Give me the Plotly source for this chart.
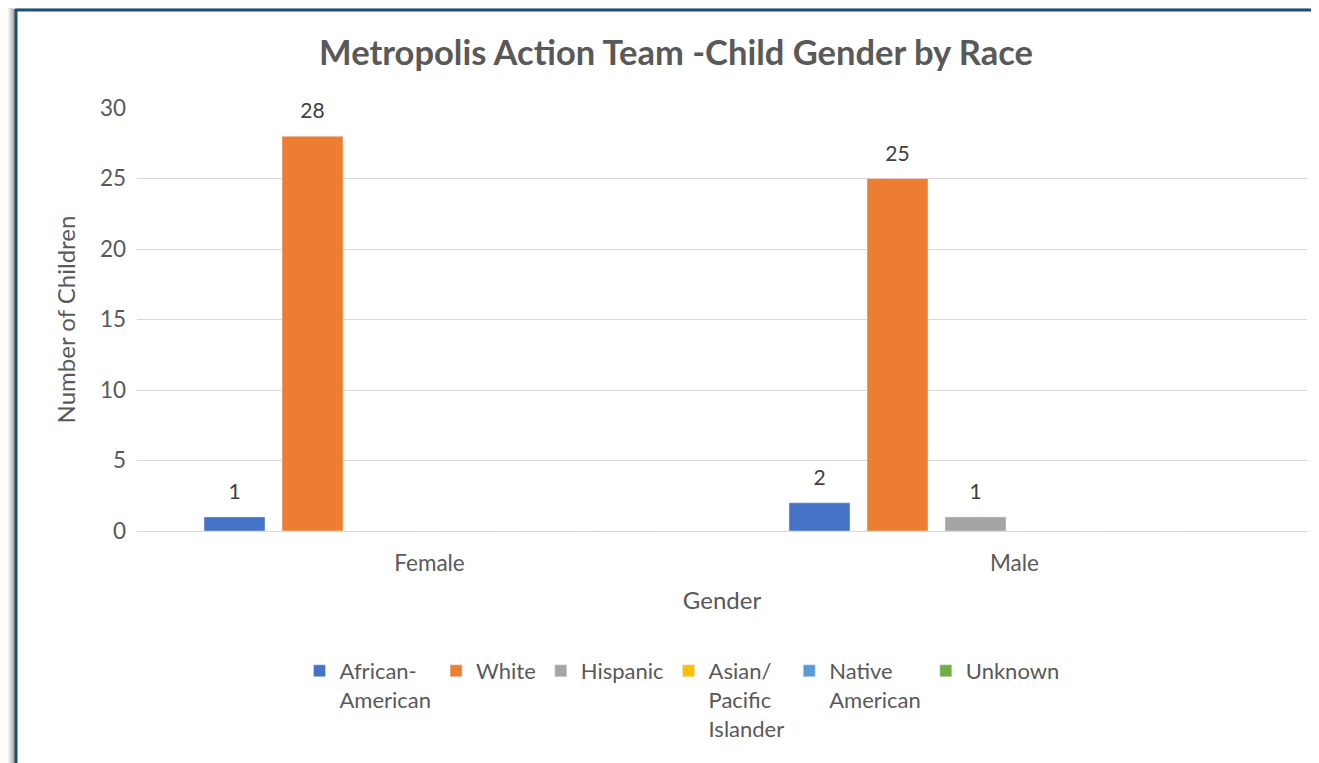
import plotly.graph_objects as go

categories = ["Female", "Male"]
series_names = ["African-<br>American", "White", "Hispanic", "Asian/<br>Pacific<br>Islander", "Native<br>American", "Unknown"]
african_american = [1, 2]
white = [28, 25]
hispanic = [0, 1]
asian_pacific = [0, 0]
native_american = [0, 0]
unknown = [0, 0]
colors = ["#4472C4", "#ED7D31", "#A5A5A5", "#FFC000", "#5B9BD5", "#70AD47"]

values = [african_american, white, hispanic, asian_pacific, native_american, unknown]

W, H = 1319, 763
OFF = 8  # page body margin offset
# plot area in page pixel coordinates
PL, PR, PT, PB = 137, 1307, 108, 531
L, R, T, B = PL - OFF, PR - OFF, PT - OFF, PB - OFF
FONT = "Lato, Calibri, 'Open Sans', sans-serif"

def px_x(p):  # page px -> paper
    return (p - OFF - L) / (R - L)

def px_y(p):
    return (B - (p - OFF)) / (B - T)

def label(v):
    if not v:
        return ""
    return f"<span style='font-size:21px'>{v}</span><br>\u00a0"

fig = go.Figure()
for name, vals, c in zip(series_names, values, colors):
    fig.add_trace(go.Bar(
        x=categories, y=vals, name=name, marker_color=c,
        text=[label(v) for v in vals],
        textposition="outside", cliponaxis=False, constraintext="none",
        textfont=dict(size=10, color="#404040", family=FONT),
    ))

shapes = []
# shadow on left and top of frame
for i, op in enumerate([0.55, 0.45, 0.35, 0.27, 0.2, 0.14, 0.09, 0.05, 0.03]):
    x = 15 - i
    shapes.append(dict(type="line", xref="paper", yref="paper",
                       x0=px_x(x), x1=px_x(x), y0=px_y(9 - i * 0.3), y1=px_y(780),
                       line=dict(color=f"rgba(60,60,60,{op})", width=1.2)))
for i, op in enumerate([0.3, 0.2, 0.13, 0.08, 0.04]):
    y = 8 - i
    shapes.append(dict(type="line", xref="paper", yref="paper",
                       x0=px_x(15 - i), x1=px_x(1330), y0=px_y(y), y1=px_y(y),
                       line=dict(color=f"rgba(60,60,60,{op})", width=1.2)))
# frame border
shapes.append(dict(type="line", xref="paper", yref="paper",
                   x0=px_x(16), x1=px_x(16), y0=px_y(9), y1=px_y(780),
                   line=dict(color="#1F4E79", width=3)))
shapes.append(dict(type="line", xref="paper", yref="paper",
                   x0=px_x(15), x1=px_x(1330), y0=px_y(10), y1=px_y(10),
                   line=dict(color="#1F4E79", width=3)))

fig.update_layout(
    width=W, height=H,
    margin=dict(l=L, r=W - R, t=T, b=H - B),
    paper_bgcolor="white", plot_bgcolor="white",
    font=dict(family=FONT, color="#595959"),
    barmode="group", bargap=0.2, bargroupgap=0.218,
    title=dict(text="<b>Metropolis Action Team -Child Gender by Race</b>",
               x=px_x(676), xref="paper", xanchor="center",
               y=1 - (53 - OFF) / H, yanchor="middle",
               font=dict(size=34.5, color="#595959", family=FONT)),
    xaxis=dict(showgrid=False, showline=False, ticks="", ticklabelstandoff=16,
               tickfont=dict(size=22.5, color="#595959"),
               title=dict(text="Gender", font=dict(size=24, color="#595959"), standoff=17)),
    yaxis=dict(range=[0, 30], dtick=5, showgrid=True, gridcolor="#D9D9D9", gridwidth=1,
               zeroline=True, zerolinecolor="#D9D9D9", zerolinewidth=1, showline=False,
               ticks="", ticklabelstandoff=10,
               tickfont=dict(size=22.5, color="#595959"),
               title=dict(text="Number of Children", font=dict(size=24, color="#595959"), standoff=17)),
    legend=dict(orientation="h", x=px_x(682), xanchor="center", y=px_y(650), yanchor="top",
                font=dict(size=22, color="#595959"), traceorder="normal",
                itemwidth=30, valign="top"),
    shapes=shapes,
    showlegend=True,
)

fig.write_html("out.html")
